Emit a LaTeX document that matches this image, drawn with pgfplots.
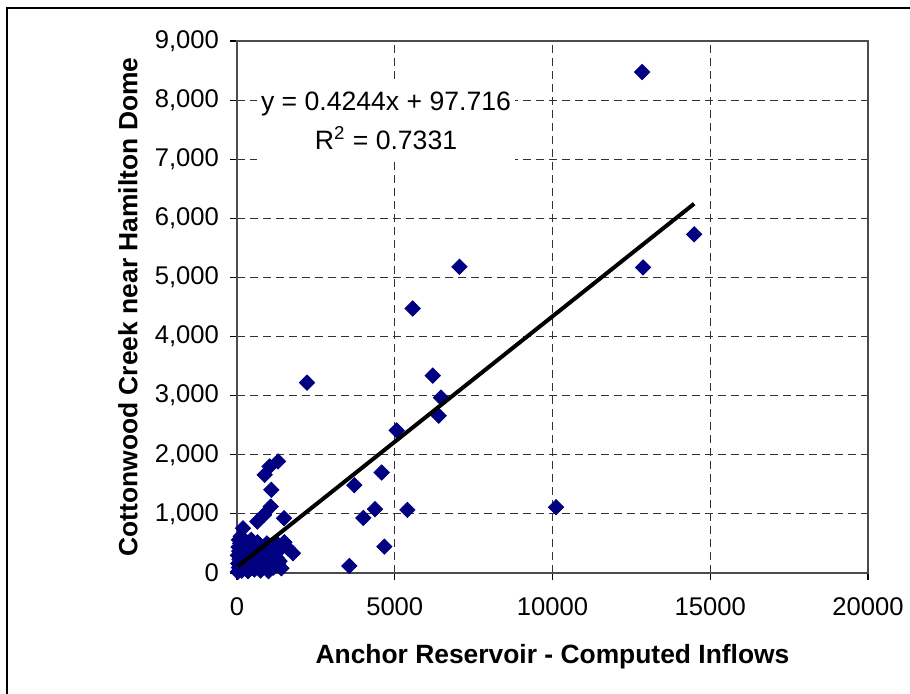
\documentclass[border=0pt]{standalone}
\usepackage{pgfplots}
\pgfplotsset{compat=1.18}
\usepackage{fontspec}
\setmainfont{Liberation Sans}
\definecolor{navy}{RGB}{0,0,128}
\begin{document}
\begin{tikzpicture}
  % page = 910 x 694 px, 1 px = 0.5pt
  \useasboundingbox (0,0) rectangle (455pt,347pt);
  \draw[line width=0.9pt] (3.5pt,343pt) rectangle (470pt,-10pt);
  \begin{axis}[
    at={(118.5pt,60.5pt)}, anchor=south west,
    scale only axis, width=315.5pt, height=266pt,
    xmin=0, xmax=20000, ymin=0, ymax=9000,
    clip mode=individual,
    xtick={0,5000,10000,15000,20000},
    ytick={0,1000,...,9000},
    scaled ticks=false,
    /pgf/number format/assume math mode=true,
    xticklabel style={/pgf/number format/1000 sep={}, yshift=-5.5pt, font=\fontsize{12.8pt}{15pt}\selectfont},
    yticklabel style={/pgf/number format/1000 sep={,}, xshift=-2pt, font=\fontsize{12.8pt}{15pt}\selectfont},
    tick pos=left, tick align=outside, major tick length=3.5pt,
    tick style={black, line width=0.6pt},
    axis line style={black!70, line width=0.9pt},
    grid=major,
    major grid style={black!80, line width=0.5pt, dash pattern=on 4pt off 2.5pt},
    xlabel={Anchor Reservoir - Computed Inflows},
    ylabel={Cottonwood Creek near Hamilton Dome},
    label style={font=\bfseries\fontsize{13.2pt}{16pt}\selectfont},
    xlabel style={at={(axis description cs:0.5,-0.158)}, anchor=center},
    ylabel style={at={(axis description cs:-0.1727,0.5)}, anchor=center},
  ]
    \addplot[only marks, mark=square*, mark size=2.7pt,
      mark options={rotate=45, fill=navy, draw=navy}] coordinates {
      (12840,8475) (12870,5169) (14490,5729) (7050,5180) (5568,4475)
      (6202,3339) (6466,2966) (6392,2661) (5061,2412) (2219,3220)
      (4586,1700) (3719,1486) (4374,1080) (4004,932) (5399,1068)
      (4670,446) (3560,119) (10111,1113)
      (1300,1887) (1035,1802) (877,1661) (1088,1407) (1067,1124)
      (856,983) (643,870) (1490,927) (190,757) (453,560)
      (30,20) (60,90) (40,160) (80,230) (30,300) (70,370) (50,440)
      (100,500) (60,560) (120,620) (200,520) (300,470)
      (150,40) (200,120) (250,200) (300,280) (220,350) (350,420)
      (280,400) (400,330) (500,430) (600,380) (700,300) (780,250)
      (350,30) (450,100) (550,60) (650,150) (500,250) (600,230)
      (700,180) (800,330) (900,400) (1000,350) (1100,280) (1200,250)
      (1300,480) (1400,420) (1500,520)
      (750,40) (850,110) (950,200) (1050,120) (1150,380) (1250,260)
      (1350,200) (1616,418) (1775,334) (1405,80) (1300,164)
      (1000,30) (1150,90) (1200,150) (900,300) (800,220) (1050,460)
      (950,500) (650,520) (550,470) (450,380) (400,250)
    };
    \addplot[black, line width=2pt, no markers] coordinates {
      (40,114.7) (14490,6247.1)
    };
    \node[fill=white, align=center, inner sep=0pt,
      minimum width=129pt, minimum height=40pt,
      font=\fontsize{13.3pt}{19.5pt}\selectfont]
      at (axis cs:4723,7644) {y = 0.4244x + 97.716\\R\textsuperscript{2} = 0.7331};
  \end{axis}
\end{tikzpicture}
\end{document}
